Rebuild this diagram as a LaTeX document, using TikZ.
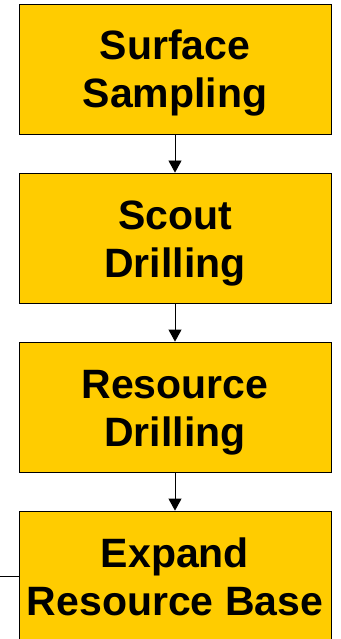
\documentclass[tikz,border=0pt]{standalone}
\usepackage{fontspec}
\setmainfont{Liberation Sans}
\usetikzlibrary{positioning,arrows.meta}
\definecolor{stageyellow}{HTML}{FFCC00}
\begin{document}
\begin{tikzpicture} [x=1pt, y=1pt, node distance=38.2pt,
  stage/.style={draw, fill=stageyellow, line width=.8pt, inner sep=0pt,
    minimum width=312pt, minimum height=130pt, align=center,
    text height=84pt, text depth=6pt,
    font=\fontsize{41}{48}\selectfont\bfseries},
  flow/.style={-{Triangle[width=13pt,length=12pt]}, line width=.8pt}]
\useasboundingbox (0,0) rectangle (340,-639);

\node[stage] (surface) at (175,-69) {Surface\\Sampling};
\node[stage, below=of surface] (scout) {Scout\\Drilling};
\node[stage, below=of scout] (resource) {Resource\\Drilling};
\node[stage, below=of resource] (expand) {Expand\\Resource Base};

\draw[flow] (surface) -- (scout);
\draw[flow] (scout) -- (resource);
\draw[flow] (resource) -- (expand);

% line coming in from the left
\coordinate (feed) at (expand.west -| 0,0);
\draw[line width=.8pt] (feed) -- (expand.west);
\end{tikzpicture}
\end{document}
